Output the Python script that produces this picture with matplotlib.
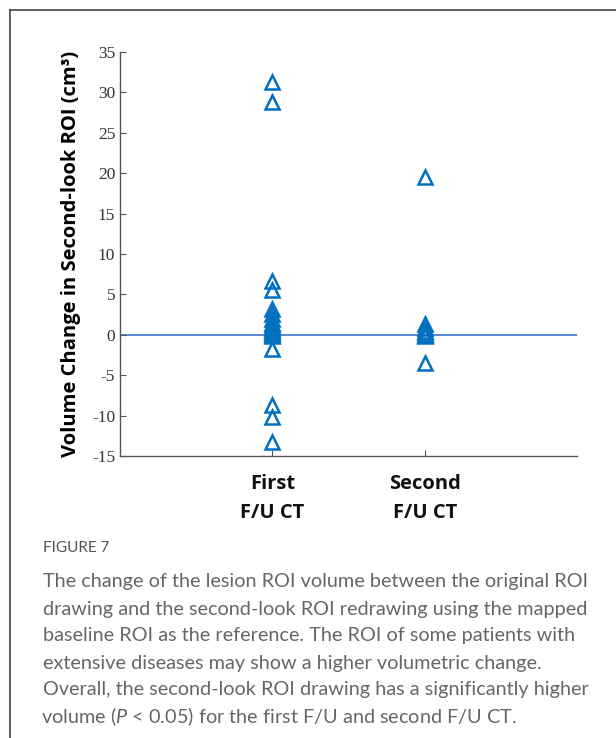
import matplotlib.pyplot as plt
from matplotlib.lines import Line2D

# data
groups = ["First\nF/U CT", "Second\nF/U CT"]
first_fu = [31.3, 28.8, 6.7, 5.5, 3.2, 2.6, 2.0, 1.5, 1.2, 0.9, 0.6, 0.4, 0.2, 0.0, -0.2,
            -1.8, -8.7, -10.2, -13.3]
second_fu = [19.5, 1.3, 0.8, 0.5, 0.3, 0.1, 0.0, -0.2, -3.5]
yticks = [-15, -10, -5, 0, 5, 10, 15, 20, 25, 30, 35]

caption_lines = [
    "The change of the lesion ROI volume between the original ROI",
    "drawing and the second-look ROI redrawing using the mapped",
    "baseline ROI as the reference. The ROI of some patients with",
    "extensive diseases may show a higher volumetric change.",
    "Overall, the second-look ROI drawing has a significantly higher",
    "volume ($\\it{P}$ < 0.05) for the first F/U and second F/U CT.",
]

plt.rcParams["mathtext.fontset"] = "custom"
plt.rcParams["mathtext.rm"] = "Lato"
plt.rcParams["mathtext.it"] = "Lato:italic"

fig = plt.figure(figsize=(6.16, 7.38), dpi=100)
ax = fig.add_axes([0.1948, 0.3821, 0.7419, 0.5474])

blue = "#0070c0"
for i, vals in enumerate([first_fu, second_fu]):
    ax.plot([i + 1] * len(vals), vals, linestyle="none", marker="^", markersize=10,
            markerfacecolor="none", markeredgecolor=blue, markeredgewidth=1.8)

ax.axhline(0, color="#4a7fd6", linewidth=1.3, zorder=0)

ax.set_xlim(0, 3)
ax.set_ylim(-15, 35)
ax.set_yticks(yticks)
ax.set_yticklabels([str(t) for t in yticks], fontfamily="Liberation Serif", fontsize=12.5)
ax.set_xticks([1, 2])
ax.set_xticklabels(groups, fontfamily="Open Sans", fontweight="bold", fontsize=14.5,
                   linespacing=1.6)
ax.tick_params(direction="in", length=4, color="#555555", labelcolor="#333333")
ax.tick_params(axis="x", pad=13, labelcolor="#111111")
for s in ["top", "right"]:
    ax.spines[s].set_visible(False)
for s in ["left", "bottom"]:
    ax.spines[s].set_color("#555555")
    ax.spines[s].set_linewidth(1.0)

ax.set_ylabel("Volume Change in Second-look ROI (cm³)", fontfamily="Open Sans",
              fontweight="bold", fontsize=14.5, labelpad=8)

# figure frame (top and left edges)
fig.add_artist(Line2D([10 / 616, 10 / 616], [0, 1 - 10 / 738], transform=fig.transFigure,
                      color="#444444", linewidth=1.2))
fig.add_artist(Line2D([10 / 616, 1], [1 - 10 / 738, 1 - 10 / 738], transform=fig.transFigure,
                      color="#444444", linewidth=1.2))

fig.text(43 / 616, 1 - 548 / 738, "FIGURE 7", fontfamily="Lato", fontsize=11,
         color="#555555", va="center")
for k, line in enumerate(caption_lines):
    x0 = 41 if "$" in line else 43
    fig.text(x0 / 616, 1 - (582 + 27 * k) / 738, line, fontfamily="Lato", fontsize=14.3,
             color="#666666", va="center")

fig.savefig("out.png", dpi=100)
